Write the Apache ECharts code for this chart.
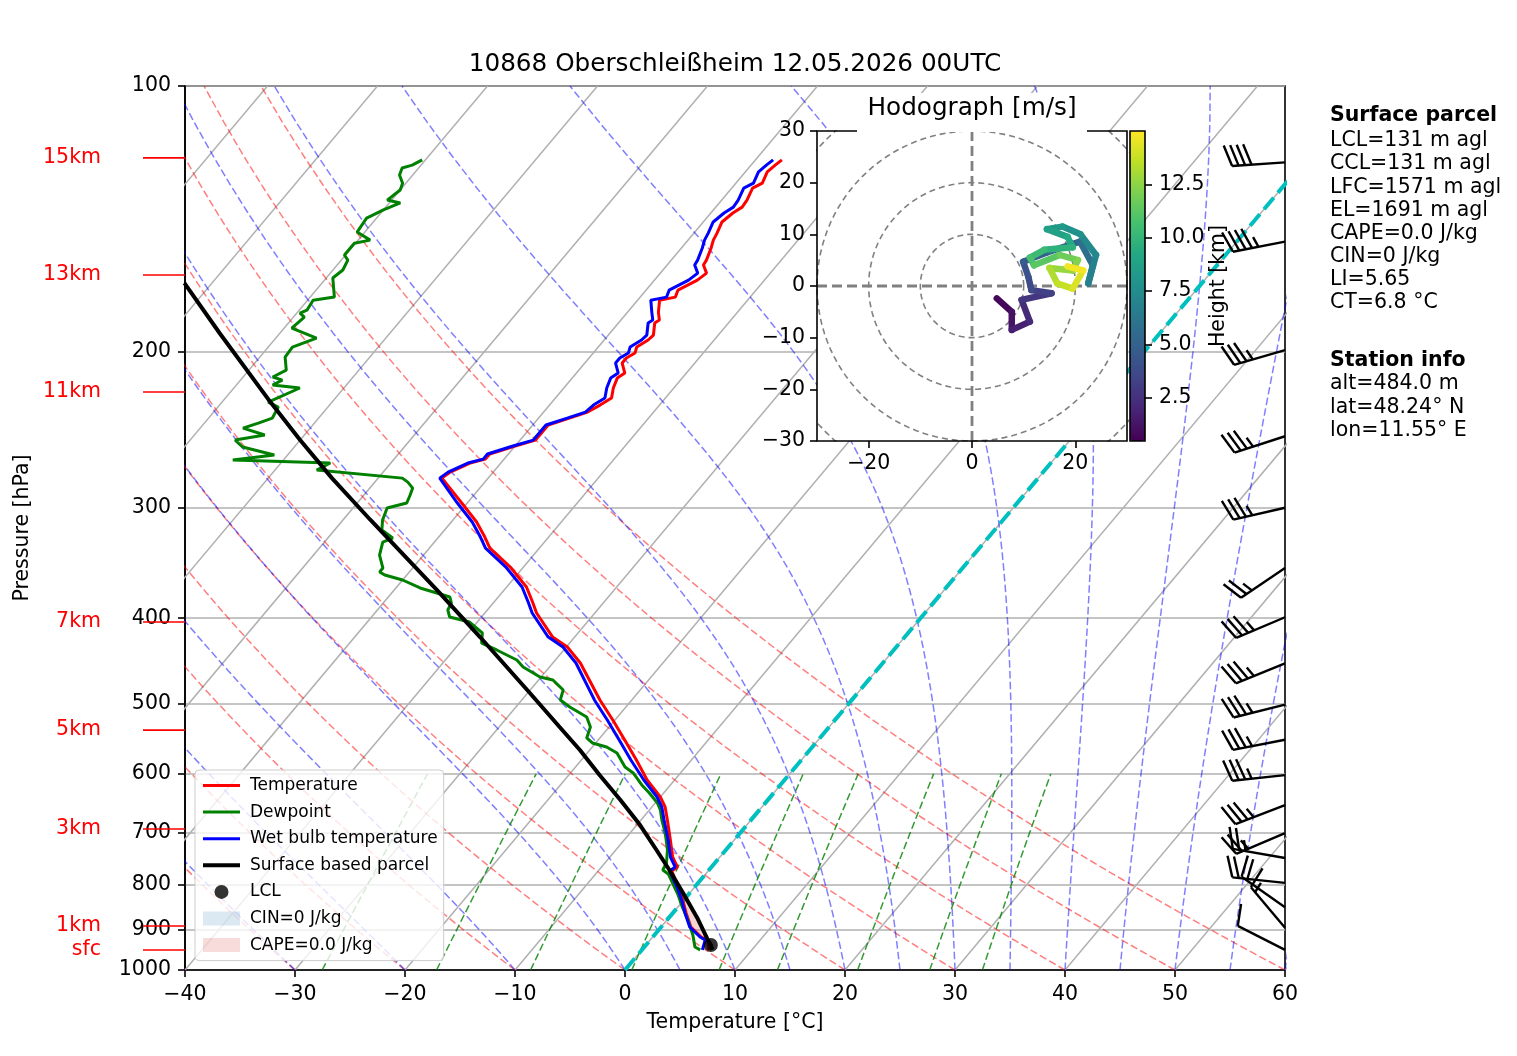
<!DOCTYPE html>
<html>
<head>
<meta charset="utf-8">
<title>10868 Oberschleißheim</title>
<script src="https://cdn.jsdelivr.net/npm/echarts@6/dist/echarts.min.js"></script>
<style>
html, body { margin: 0; padding: 0; background: #fff; }
#main { width: 1517px; height: 1056px; }
</style>
</head>
<body>
<div id="main"></div>
<script>
// sounding (hPa / degC)
var tempP = [121.2,122.9,125.1,128.8,130.5,134.6,137.1,139.2,142.5,146.7,149.4,152.5,157.4,159.4,162.8,165.8,170.2,173.3,174.7,180.2,184.0,185.4,191.3,193.8,197.4,200.5,203.1,205.8,211.2,214.0,219.6,225.4,229.6,233.8,237.5,241.8,251.5,255.4,260.8,264.3,267.0,273.4,277.7,296.3,311.3,323.8,333.2,350.1,368.8,383.5,394.6,420.1,431.2,449.5,494.9,521.4,553.6,578.7,609.6,637.2,654.0,676.6,712.8,745.0,764.7,772.7,805.6,833.3,862.0,894.0,917.6,924.8,949.0];
var tempT = [-47.6,-47.8,-48.0,-47.6,-48.1,-47.7,-47.6,-48.0,-48.3,-47.9,-47.7,-47.3,-46.8,-46.7,-45.8,-46.1,-47.1,-46.8,-48.0,-47.2,-46.5,-46.7,-45.9,-46.0,-46.5,-46.2,-46.6,-46.6,-45.6,-45.9,-45.5,-44.9,-45.4,-46.0,-47.2,-48.6,-48.6,-50.0,-51.7,-51.7,-52.8,-53.9,-54.2,-50.5,-47.7,-45.8,-44.5,-41.2,-38.2,-36.5,-35.3,-32.0,-29.9,-27.5,-22.9,-20.2,-17.2,-15.0,-12.5,-10.0,-8.8,-7.6,-5.8,-4.3,-3.1,-3.3,-1.5,-0.1,1.2,2.7,4.4,5.2,6.1];
// wet bulb on the same levels as tempP
var wetT = [-48.4,-48.6,-48.8,-48.4,-48.9,-48.5,-48.4,-48.8,-49.1,-48.7,-48.5,-48.1,-47.6,-47.5,-46.6,-46.9,-47.9,-47.6,-48.8,-47.8,-47.1,-47.3,-46.5,-46.6,-47.1,-46.8,-47.2,-47.2,-46.2,-46.5,-46.1,-45.5,-46.0,-46.2,-47.4,-48.8,-48.8,-50.2,-51.9,-51.9,-53.0,-54.1,-54.4,-50.9,-48.1,-46.2,-44.9,-41.6,-38.6,-36.9,-35.7,-32.4,-30.3,-27.9,-23.4,-20.7,-17.7,-15.5,-12.8,-10.3,-9.1,-7.9,-6.0,-4.5,-3.3,-3.5,-1.6,-0.2,1.1,2.6,4.3,5.0,5.5];
var dewP = [121.2,122.9,123.8,126.1,128.8,131.1,134.6,135.6,138.1,141.1,146.3,149.4,150.6,155.3,157.4,161.5,164.9,173.3,174.7,179.3,180.7,182.6,187.9,192.8,197.4,202.6,209.6,213.4,215.1,217.9,219.6,227.8,230.8,237.5,240.6,243.8,248.2,251.5,256.1,261.5,264.9,267.0,271.9,277.7,280.6,285.0,290.2,296.3,300.2,309.7,317.9,324.6,328.0,339.3,351.0,354.6,357.4,362.1,369.7,374.6,378.5,384.5,391.5,398.7,404.0,415.7,426.7,434.5,446.0,454.2,466.2,469.8,482.2,494.9,504.1,517.4,531.0,546.4,553.6,559.4,568.2,589.3,598.6,617.6,630.7,647.3,659.2,676.6,699.9,731.6,756.8,770.7,778.7,822.5,848.7,877.9,912.9,941.9,949.0];
var dewT = [-80.3,-80.8,-81.5,-81.2,-80.3,-80.0,-80.4,-79.0,-80.0,-80.9,-80.7,-78.9,-80.1,-80.1,-79.4,-79.1,-79.4,-77.8,-79.5,-79.3,-79.7,-79.0,-79.3,-76.3,-77.8,-77.7,-76.6,-77.3,-76.2,-76.7,-74.0,-75.8,-74.5,-74.2,-75.1,-76.1,-73.6,-75.9,-74.7,-71.2,-74.6,-65.5,-66.2,-57.8,-57.0,-56.1,-55.8,-55.5,-56.9,-56.4,-55.7,-54.1,-54.7,-54.0,-52.7,-52.7,-52.0,-50.0,-47.8,-45.9,-44.4,-43.8,-43.6,-42.9,-40.7,-38.7,-38.0,-36.1,-33.5,-32.4,-30.1,-28.7,-27.0,-26.5,-25.1,-22.8,-21.7,-21.2,-20.3,-18.7,-17.3,-15.5,-14.3,-12.6,-11.3,-9.8,-9.0,-8.1,-6.8,-5.3,-4.4,-4.2,-3.4,-0.9,0.4,1.9,3.5,4.6,5.3];
var parcelP = [167.1,190.3,227.8,251.5,277.7,309.7,371.7,420.1,486.0,531.0,563.8,601.8,642.2,685.5,731.6,770.7,818.3,873.3,920.0,937.0,949.0];
var parcelT = [-92.5,-85.5,-75.6,-70.0,-64.2,-57.5,-46.1,-38.6,-29.8,-24.5,-20.9,-17.2,-13.4,-9.7,-6.3,-3.6,-0.6,2.6,5.0,5.9,6.4];
var lclP = 937.0;
var lclT = 5.9;

// wind barbs (knots, direction from)
var windP = [122,150,199,249,300,351,399,450,501,549,602,651,700,747,797,849,896,949];
var windSpd = [40,45,35,35,35,25,35,35,35,35,35,35,25,25,20,20,15,10];
var windDir = [266,259,254,252,257,236,247,248,256,259,264,249,247,280,276,305,320,297];

// hodograph (m/s) coloured by height (km)
var hodoH = [0.5,1.0,1.5,2.0,2.5,3.0,3.5,4.0,4.5,5.0,5.5,6.0,6.5,7.0,7.5,8.0,8.5,9.0,9.5,10.0,10.5,11.0,11.5,12.0,12.5,13.0,13.5,14.0,14.5,15.0];
var hodoU = [4.8,7.7,7.7,11.2,9.6,15.4,11.5,10.9,9.9,14.5,20.9,23.4,22.5,24.0,21.0,17.5,14.5,18.5,19.5,14.0,11.2,12.0,17.0,20.5,19.5,15.0,16.5,19.5,21.5,18.5];
var hodoV = [-2.4,-5.0,-8.5,-6.9,-2.7,-1.4,-0.8,1.8,4.7,6.5,8.6,4.0,0.5,6.0,10.0,11.5,11.0,9.5,7.5,7.0,5.5,4.0,6.0,5.0,3.0,3.5,0.5,-0.5,3.0,3.8];

var pressTicks = [100,200,300,400,500,600,700,800,900,1000];
var heightTicks = [2.5,5.0,7.5,10.0,12.5];
var hodoXTicks = [-20,0,20];
var altNames = ['sfc','1km','3km','5km','7km','11km','13km','15km'];
var altP = [949.2,891.7,692.6,535.3,403.9,221.9,163.6,120.6];
var mixRatios = [0.0004,0.001,0.002,0.004,0.007,0.01,0.016,0.024,0.032];
var moistStart = [-40,-30,-20,-10,0,5,10,15,20,25,30,35,40,45,50,55,60];

var parcelInfo = ['LCL=131 m agl','CCL=131 m agl','LFC=1571 m agl','EL=1691 m agl','CAPE=0.0 J/kg','CIN=0 J/kg','LI=5.65','CT=6.8 °C'];
var stationInfo = ['alt=484.0 m','lat=48.24° N','lon=11.55° E'];

var FONT = 'DejaVu Sans';
var K = 67.5; // skew: degC of shift per decade of pressure

function skew(T, p) {
  return [T + K * (3 - Math.log10(p)), Math.log10(p)];
}
function minus(v) {
  return v < 0 ? '\u2212' + Math.abs(v) : String(v);
}
function bg(data, color, width, type, z) {
  return {
    type: 'line', data: data, symbol: 'none', silent: true, animation: false,
    lineStyle: { color: color, width: width, type: type }, z: z || 1
  };
}

var series = [];

// isotherms (skewed grid)
for (var t = -100; t <= 60; t += 10) {
  series.push(bg([skew(t, 1000), skew(t, 100)], '#b0b0b0', 1.5, 'solid'));
}
// dry adiabats
for (var th = -40; th <= 60; th += 10) {
  var d = [];
  for (var p = 1000; p >= 100; p -= 10) {
    d.push(skew((th + 273.15) * Math.pow(p / 1000, 0.2857) - 273.15, p));
  }
  series.push(bg(d, 'rgba(255,0,0,0.5)', 1.5, [7.5, 3.3]));
}
// moist adiabats
function moistLine(t0) {
  var Rd = 287.04749, Cp = 1004.6662, Lv = 2.50084e6, eps = 0.621957;
  function f(pp, TT) {
    var tc = TT - 273.15;
    var es = 6.112 * Math.exp(17.67 * tc / (tc + 243.5));
    var rs = eps * es / (pp - es);
    return (Rd * TT + Lv * rs) / (Cp + Lv * Lv * rs * eps / (Rd * TT * TT)) / pp;
  }
  var T = t0 + 273.15, pp = 1000, h = -10, out = [skew(t0, 1000)];
  while (pp > 100.001) {
    var k1 = f(pp, T), k2 = f(pp + h / 2, T + h / 2 * k1), k3 = f(pp + h / 2, T + h / 2 * k2), k4 = f(pp + h, T + h * k3);
    T += h / 6 * (k1 + 2 * k2 + 2 * k3 + k4);
    pp += h;
    out.push(skew(T - 273.15, pp));
  }
  return out;
}
moistStart.forEach(function (t0) {
  series.push(bg(moistLine(t0), 'rgba(0,0,255,0.5)', 1.5, [7.5, 3.3]));
});
// mixing ratio lines
mixRatios.forEach(function (w) {
  var d = [];
  for (var p = 1000; p >= 600; p -= 10) {
    var e = p * w / (0.622 + w);
    var l = Math.log(e / 6.112);
    d.push(skew(243.5 * l / (17.67 - l), p));
  }
  series.push(bg(d, 'rgba(0,128,0,0.8)', 1.5, [7.5, 3.3]));
});
// 0 degC isotherm
series.push(bg([skew(0, 1000), skew(0, 100)], '#00bfbf', 4, [15, 6.6], 2));

// CAPE shading between parcel and temperature near the ground
var capePts = [];
parcelP.forEach(function (p, i) { if (p >= 800) capePts.push(skew(parcelT[i], p)); });
for (var i = tempP.length - 1; i >= 0; i--) {
  if (tempP[i] >= 800) capePts.push(skew(tempT[i], tempP[i]));
}
series.push({
  type: 'custom', data: [[0, 2.95]], silent: true, z: 2,
  renderItem: function (params, api) {
    return {
      type: 'polygon',
      shape: { points: capePts.map(function (c) { return api.coord(c); }) },
      style: { fill: 'rgba(214,39,40,0.2)' }
    };
  }
});

series.push({
  name: 'Temperature', type: 'line', symbol: 'none', animation: false, z: 3,
  color: '#ff0000', lineStyle: { color: '#ff0000', width: 3 },
  data: tempP.map(function (p, i) { return skew(tempT[i], p); })
});
series.push({
  name: 'Dewpoint', type: 'line', symbol: 'none', animation: false, z: 3,
  color: '#008000', lineStyle: { color: '#008000', width: 3 },
  data: dewP.map(function (p, i) { return skew(dewT[i], p); })
});
series.push({
  name: 'Wet bulb temperature', type: 'line', symbol: 'none', animation: false, z: 3,
  color: '#0000ff', lineStyle: { color: '#0000ff', width: 3 },
  data: tempP.map(function (p, i) { return skew(wetT[i], p); })
});
series.push({
  name: 'Surface based parcel', type: 'line', symbol: 'none', animation: false, z: 3,
  color: '#000', lineStyle: { color: '#000', width: 4 },
  data: parcelP.map(function (p, i) { return skew(parcelT[i], p); })
});
series.push({
  name: 'LCL', type: 'scatter', symbol: 'circle', symbolSize: 14, animation: false, z: 4,
  itemStyle: { color: '#000' }, data: [skew(lclT, lclP)]
});
series.push({ name: 'CIN=0 J/kg', type: 'scatter', data: [], itemStyle: { color: 'rgba(31,119,180,0.2)' } });
series.push({ name: 'CAPE=0.0 J/kg', type: 'scatter', data: [], itemStyle: { color: 'rgba(214,39,40,0.2)' } });

// wind barbs along the right edge
series.push({
  type: 'custom', silent: true, clip: false, z: 3,
  data: windP.map(function (p, i) { return [p, windSpd[i], windDir[i]]; }),
  renderItem: function (params, api) {
    var p = api.value(0), spd = api.value(1), dir = api.value(2);
    var b = api.coord([60, Math.log10(p)]);
    var L = 53, r = dir * Math.PI / 180;
    var dv = [Math.sin(r), -Math.cos(r)];
    var n = [-dv[1], dv[0]];
    var tip = [b[0] + dv[0] * L, b[1] + dv[1] * L];
    var st = { stroke: '#000', lineWidth: 2.4, lineCap: 'butt' };
    var kids = [{ type: 'line', shape: { x1: b[0], y1: b[1], x2: tip[0], y2: tip[1] }, style: st }];
    var s = Math.round(spd / 5) * 5, full = Math.floor(s / 10), half = s % 10 >= 5;
    var sp = 6.5, H = 21, off = 7, k = 0;
    function barb(k, hh, oo) {
      var sx = tip[0] - dv[0] * k * sp, sy = tip[1] - dv[1] * k * sp;
      kids.push({ type: 'line', shape: { x1: sx, y1: sy, x2: sx + n[0] * hh + dv[0] * oo, y2: sy + n[1] * hh + dv[1] * oo }, style: st });
    }
    for (k = 0; k < full; k++) barb(k, H, off);
    if (half) barb(k === 0 ? 1 : k, H / 2, off / 2);
    return { type: 'group', children: kids };
  }
});

// height markers on the left
series.push({
  type: 'custom', silent: true, clip: false, z: 3,
  data: altP.map(function (p) { return [-40, p]; }),
  renderItem: function (params, api) {
    var c = api.coord([-40, Math.log10(api.value(1))]);
    return {
      type: 'group', children: [
        { type: 'line', shape: { x1: c[0] - 42, y1: c[1], x2: c[0], y2: c[1] }, style: { stroke: '#ff0000', lineWidth: 1.6 } },
        { type: 'text', style: { text: altNames[params.dataIndex], x: c[0] - 84, y: c[1], align: 'right', verticalAlign: 'middle', fill: '#ff0000', fontSize: 20.5, fontFamily: FONT } }
      ]
    };
  }
});

// hodograph: rings, axes, coloured trace
var hodoFirst = series.length;
for (var rr = 10; rr <= 40; rr += 10) {
  var ring = [];
  for (var a = 0; a <= 360; a += 3) {
    ring.push([rr * Math.cos(a * Math.PI / 180), rr * Math.sin(a * Math.PI / 180)]);
  }
  series.push(bg(ring, '#808080', 1.6, [6, 4], 5));
}
series.push(bg([[-30, 0], [30, 0]], '#808080', 2.8, [10, 5], 5));
series.push(bg([[0, -30], [0, 30]], '#808080', 2.8, [10, 5], 5));
for (var j = hodoFirst; j < series.length; j++) {
  series[j].xAxisIndex = 1;
  series[j].yAxisIndex = 1;
}
var hodoSeg = [];
for (var q = 0; q < hodoH.length - 1; q++) {
  hodoSeg.push([hodoU[q], hodoV[q], hodoU[q + 1], hodoV[q + 1], (hodoH[q] + hodoH[q + 1]) / 2]);
}
var hodoIdx = series.length;
series.push({
  type: 'custom', xAxisIndex: 1, yAxisIndex: 1, silent: true, z: 6, clip: true,
  encode: { x: [0, 2], y: [1, 3] },
  data: hodoSeg,
  renderItem: function (params, api) {
    var a = api.coord([api.value(0), api.value(1)]);
    var b = api.coord([api.value(2), api.value(3)]);
    return {
      type: 'line', shape: { x1: a[0], y1: a[1], x2: b[0], y2: b[1] },
      style: { stroke: api.visual('color'), lineWidth: 6.5, lineCap: 'round' }
    };
  }
});

var graphics = [
  { type: 'rect', shape: { x: 817, y: 131, width: 310, height: 310 }, style: { fill: '#fff' }, z: 3, silent: true },
  { type: 'rect', shape: { x: 817, y: 131, width: 310, height: 310 }, style: { fill: 'none', stroke: '#000', lineWidth: 1.6 }, z: 10, silent: true },
  { type: 'rect', shape: { x: 1130, y: 131, width: 15, height: 310 }, style: { fill: 'none', stroke: '#000', lineWidth: 1.6 }, z: 10, silent: true },
  { type: 'rect', shape: { x: 857, y: 93, width: 230, height: 39 }, style: { fill: '#fff' }, z: 11, silent: true },
  { type: 'text', x: 972, y: 109, style: { text: 'Hodograph [m/s]', align: 'center', verticalAlign: 'middle', fontSize: 24.7, fontFamily: FONT, fill: '#000' }, z: 12 },
  { type: 'text', x: 735, y: 65, style: { text: '10868 Oberschleißheim 12.05.2026 00UTC', align: 'center', verticalAlign: 'middle', fontSize: 24.7, fontFamily: FONT, fill: '#000' }, z: 12 },
  { type: 'text', x: 1330, y: 116, style: { text: 'Surface parcel', align: 'left', verticalAlign: 'middle', fontSize: 20.5, fontWeight: 'bold', fontFamily: FONT, fill: '#000' } },
  { type: 'text', x: 1330, y: 361, style: { text: 'Station info', align: 'left', verticalAlign: 'middle', fontSize: 20.5, fontWeight: 'bold', fontFamily: FONT, fill: '#000' } }
];
parcelInfo.forEach(function (s, i) {
  graphics.push({ type: 'text', x: 1330, y: 141 + i * 23.15, style: { text: s, align: 'left', verticalAlign: 'middle', fontSize: 20.5, fontFamily: FONT, fill: '#000' } });
});
stationInfo.forEach(function (s, i) {
  graphics.push({ type: 'text', x: 1330, y: 384 + i * 23.4, style: { text: s, align: 'left', verticalAlign: 'middle', fontSize: 20.5, fontFamily: FONT, fill: '#000' } });
});

var tickLine = { color: '#000', width: 1.6 };
var lab = { color: '#000', fontSize: 20.5, fontFamily: FONT };

var option = {
  animation: false,
  backgroundColor: '#fff',
  textStyle: { fontFamily: FONT },
  grid: [
    { left: 185, top: 86, width: 1100, height: 884, show: true, borderColor: '#000', borderWidth: 1.6, backgroundColor: 'transparent' },
    { left: 817, top: 131, width: 310, height: 310 },
    { left: 1130, top: 131, width: 15, height: 310 }
  ],
  xAxis: [
    {
      gridIndex: 0, type: 'value', min: -40, max: 60, interval: 10,
      axisLine: { onZero: false, lineStyle: tickLine }, axisTick: { length: 7, lineStyle: tickLine },
      axisLabel: Object.assign({ margin: 14, formatter: minus }, lab),
      splitLine: { show: false },
      name: 'Temperature [°C]', nameLocation: 'middle', nameGap: 42,
      nameTextStyle: { fontSize: 20.5, color: '#000', fontFamily: FONT }
    },
    {
      gridIndex: 1, type: 'value', min: -30, max: 30, z: 10,
      axisLine: { show: false, onZero: false },
      axisTick: { length: 7, lineStyle: tickLine, customValues: hodoXTicks },
      axisLabel: Object.assign({ margin: 12, formatter: minus, customValues: hodoXTicks }, lab),
      splitLine: { show: false }
    },
    { gridIndex: 2, type: 'value', min: 0, max: 1, show: false }
  ],
  yAxis: [
    {
      gridIndex: 0, type: 'value', min: 2, max: 3, inverse: true,
      axisLine: { onZero: false, lineStyle: tickLine },
      axisTick: { length: 7, lineStyle: tickLine, customValues: pressTicks.map(Math.log10) },
      axisLabel: Object.assign({
        margin: 14, customValues: pressTicks.map(Math.log10),
        formatter: function (v) { return String(Math.round(Math.pow(10, v))); }
      }, lab),
      splitLine: { show: true, lineStyle: { color: '#b0b0b0', width: 1.6 } },
      name: 'Pressure [hPa]', nameLocation: 'middle', nameGap: 152, nameRotate: 90,
      nameTextStyle: { fontSize: 20.5, color: '#000', fontFamily: FONT }
    },
    {
      gridIndex: 1, type: 'value', min: -30, max: 30, interval: 10, z: 10,
      axisLine: { show: false, onZero: false },
      axisTick: { length: 7, lineStyle: tickLine },
      axisLabel: Object.assign({ margin: 12, formatter: minus }, lab),
      splitLine: { show: false }
    },
    {
      gridIndex: 2, type: 'value', position: 'right', min: 0.484, max: 15.0, z: 10,
      axisLine: { show: false, onZero: false },
      axisTick: { length: 7, lineStyle: tickLine, customValues: heightTicks },
      axisLabel: Object.assign({ margin: 14, customValues: heightTicks, formatter: function (v) { return v.toFixed(1); } }, lab),
      splitLine: { show: false },
      name: 'Height [km]', nameLocation: 'middle', nameGap: 58, nameRotate: 90,
      nameTextStyle: { fontSize: 20.5, color: '#000', fontFamily: FONT }
    }
  ],
  visualMap: [{
    type: 'continuous', seriesIndex: hodoIdx, dimension: 4,
    min: 0.484, max: 15.0, calculable: false, hoverLink: false, realtime: false,
    left: 1130, top: 131, itemWidth: 15, itemHeight: 310, padding: 0, z: 6,
    inRange: { color: ['#440154','#482475','#414487','#355f8d','#2a788e','#21918c','#22a884','#44bf70','#7ad151','#bddf26','#fde725'] }
  }],
  legend: {
    left: 195, top: 770, orient: 'vertical', selectedMode: false,
    backgroundColor: 'rgba(255,255,255,0.8)', borderColor: '#cccccc', borderWidth: 1, borderRadius: 4,
    padding: [7, 6, 7, 8], itemWidth: 37, itemHeight: 14, itemGap: 9.6,
    textStyle: { fontSize: 17, color: '#000', fontFamily: FONT, padding: [0, 0, 0, 5] },
    data: [
      { name: 'Temperature', icon: 'path://M0 0H37V3H0Z' },
      { name: 'Dewpoint', icon: 'path://M0 0H37V3H0Z' },
      { name: 'Wet bulb temperature', icon: 'path://M0 0H37V3H0Z' },
      { name: 'Surface based parcel', icon: 'path://M0 0H37V4H0Z' },
      { name: 'LCL', icon: 'circle' },
      { name: 'CIN=0 J/kg', icon: 'rect' },
      { name: 'CAPE=0.0 J/kg', icon: 'rect' }
    ],
    z: 8
  },
  graphic: graphics,
  series: series
};

var chart = echarts.init(document.getElementById('main'));
chart.setOption(option);
</script>
</body>
</html>
